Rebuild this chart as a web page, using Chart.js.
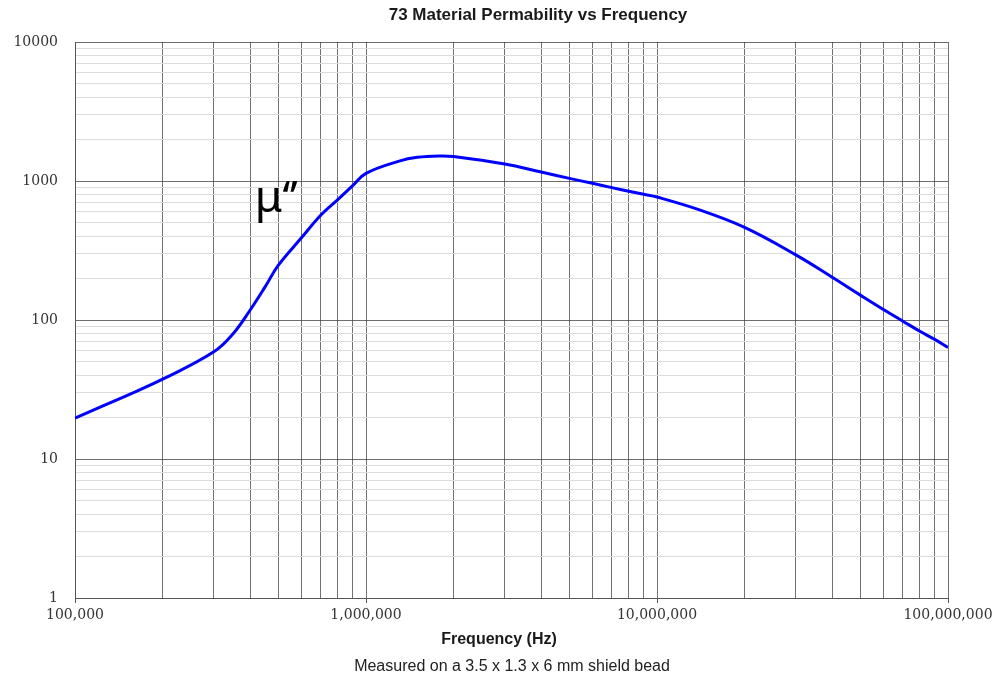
<!DOCTYPE html>
<html>
<head>
<meta charset="utf-8">
<title>73 Material Permability vs Frequency</title>
<script src="https://cdn.jsdelivr.net/npm/chart.js@4/dist/chart.umd.min.js"></script>
<style>
  html, body { margin: 0; padding: 0; background: #ffffff; }
  #wrap { position: relative; width: 1003px; height: 678px; }
</style>
</head>
<body>
<div id="wrap"><canvas id="chart"></canvas></div>
<script>
// Imaginary permeability (mu'') of 73 material, log-log
const freqHz = [1e5, 1.5e5, 2e5, 3e5, 3.5e5, 4e5, 4.5e5, 5e5, 6e5, 7e5, 8e5, 9e5,
                1e6, 1.3e6, 1.5e6, 1.8e6, 2e6, 3e6, 4e6, 5e6, 6e6, 7e6, 8e6, 9e6,
                1e7, 1.4e7, 2e7, 3e7, 4e7, 5e7, 6e7, 7e7, 8e7, 9e7, 1e8];
const muImag = [19.7, 28.5, 37.5, 59, 80, 118, 173, 248, 390, 569, 735, 925,
                1135, 1390, 1480, 1515, 1500, 1325, 1160, 1045, 962, 896, 844, 802,
                767, 620, 464, 294, 203, 151, 119, 98, 83, 72.5, 63.5];

const xRange = [1e5, 1e8];
const yRange = [1, 10000];

const chartTitle = '73 Material Permability vs Frequency';
const xTitle = 'Frequency (Hz)';
const footNote = 'Measured on a 3.5 x 1.3 x 6 mm shield bead';
const curveLabel = 'μ‘’';
const curveLabelAt = { x: 4.15e5, y: 600 };

const isDecade = v => {
  const l = Math.log10(v);
  return Math.abs(l - Math.round(l)) < 1e-9;
};

// 1..9 x 10^n gridline positions across a range
const logTicks = (lo, hi) => {
  const out = [];
  for (let e = Math.round(Math.log10(lo)); e < Math.round(Math.log10(hi)); e++) {
    for (let m = 1; m <= 9; m++) out.push({ value: m * Math.pow(10, e) });
  }
  out.push({ value: hi });
  return out;
};

const tickFont = { family: 'DejaVu Serif', size: 14 };

// Title, axis caption, footnote and the curve label
const captions = {
  id: 'captions',
  afterDraw(chart) {
    const { ctx, scales } = chart;
    ctx.save();
    ctx.fillStyle = '#1a1a1a';
    ctx.textAlign = 'center';
    ctx.textBaseline = 'middle';
    ctx.font = 'bold 17px "Liberation Sans", Arial, sans-serif';
    ctx.fillText(chartTitle, 538, 15);
    ctx.font = 'bold 16px "Liberation Sans", Arial, sans-serif';
    ctx.fillText(xTitle, 499, 640);
    ctx.font = '16px "Liberation Sans", Arial, sans-serif';
    ctx.fillStyle = '#222';
    ctx.fillText(footNote, 512, 667);

    ctx.fillStyle = '#000';
    ctx.textAlign = 'left';
    ctx.textBaseline = 'alphabetic';
    ctx.font = '44px "Noto Sans", "Open Sans", sans-serif';
    ctx.fillText(curveLabel,
      scales.x.getPixelForValue(curveLabelAt.x),
      scales.y.getPixelForValue(curveLabelAt.y));
    ctx.restore();
  }
};

new Chart(document.getElementById('chart'), {
  type: 'line',
  data: {
    datasets: [{
      data: freqHz.map((f, i) => ({ x: f, y: muImag[i] })),
      borderColor: '#0000ff',
      borderWidth: 3,
      pointRadius: 0,
      fill: false,
      tension: 0.4
    }]
  },
  options: {
    responsive: true,
    maintainAspectRatio: false,
    animation: false,
    layout: { padding: { top: 42, right: 55, bottom: 0, left: 0 } },
    plugins: {
      legend: { display: false },
      tooltip: { enabled: false },
      title: { display: false }
    },
    scales: {
      x: {
        type: 'logarithmic',
        min: xRange[0],
        max: xRange[1],
        afterBuildTicks(scale) { scale.ticks = logTicks(xRange[0], xRange[1]); },
        border: { display: true, color: '#555', width: 1 },
        grid: {
          color: 'rgba(60,60,60,0.72)',
          lineWidth: 1,
          drawTicks: true,
          tickLength: 5,
          tickColor: c => (c.tick && isDecade(c.tick.value)) ? '#555' : 'rgba(0,0,0,0)'
        },
        ticks: {
          autoSkip: false,
          maxRotation: 0,
          minRotation: 0,
          padding: 4,
          color: '#333',
          font: tickFont,
          callback: v => isDecade(v) ? Number(v).toLocaleString('en-US') : ''
        },
        afterFit(scale) {
          scale.height = 80;
          scale.paddingLeft = 0;
          scale.paddingRight = 0;
        }
      },
      y: {
        type: 'logarithmic',
        min: yRange[0],
        max: yRange[1],
        afterBuildTicks(scale) { scale.ticks = logTicks(yRange[0], yRange[1]); },
        border: { display: true, color: '#555', width: 1 },
        grid: {
          drawTicks: false,
          lineWidth: 1,
          color: c => (c.tick && isDecade(c.tick.value)) ? 'rgba(60,60,60,0.75)' : '#dcdcdc'
        },
        ticks: {
          autoSkip: false,
          padding: 17,
          color: '#333',
          font: tickFont,
          callback: v => isDecade(v) ? String(v) : ''
        },
        afterFit(scale) {
          scale.width = 75;
        }
      }
    }
  },
  plugins: [captions]
});
</script>
</body>
</html>
